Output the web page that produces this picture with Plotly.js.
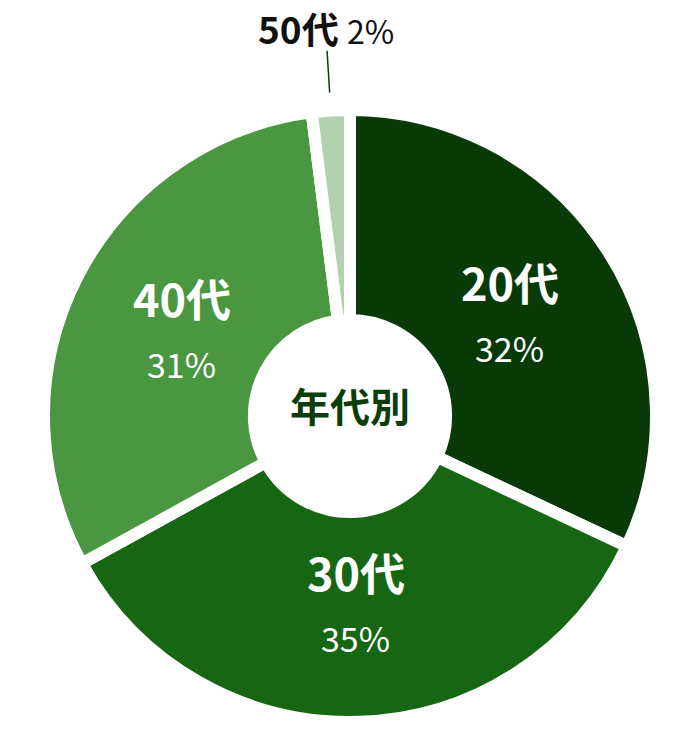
<!DOCTYPE html>
<html>
<head>
<meta charset="utf-8">
<script src="https://cdn.plot.ly/plotly-3.0.1.min.js"></script>
<style>
  html, body { margin: 0; padding: 0; background: #fff; }
</style>
</head>
<body>
<div id="chart"></div>
<script>
// age groups and their share, %
const ages = ['20代', '30代', '40代', '50代'];
const shares = [32, 35, 31, 2];
const centerLabel = '年代別';

const colors = ['#073a07', '#166614', '#4a9641', '#b2d1ae'];
const fontJP = '"Noto Sans CJK JP", "Noto Sans", sans-serif';

const W = 700, H = 732;
const cx = 350, cy = 416, R = 306;   // pie geometry, px
const labelR = 189;                  // inside labels radius

const toPx = (dx, dy) => ({x: (cx + dx) / W, y: (H - (cy + dy)) / H});
const note = (p, text, font, yshift) => ({
    x: p.x, y: p.y, xref: 'paper', yref: 'paper', showarrow: false,
    xanchor: 'center', yanchor: 'middle',
    text: text, font: font, yshift: yshift || 0
});

const total = shares.reduce((a, b) => a + b, 0);
const annotations = [];
const shapes = [];
let cum = 0;
shares.forEach((v, i) => {
    const mid = (cum + v / 2) / total * 2 * Math.PI;
    cum += v;
    const sx = Math.sin(mid), sy = -Math.cos(mid);
    if (v >= 5) {
        const p = toPx(sx * labelR, sy * labelR);
        annotations.push(note(p, '<b>' + ages[i] + '</b>',
            {family: fontJP, size: 45, color: '#fff'}, 33));
        annotations.push(note(p, v + '%',
            {family: fontJP, size: 34, color: '#fff'}, -33));
    } else {
        // small slice: label outside with a leader line
        const a = toPx(sx * 324, sy * 324);
        const b = toPx(sx * 366, sy * 366);
        shapes.push({
            type: 'line', xref: 'paper', yref: 'paper',
            x0: a.x, y0: a.y, x1: b.x, y1: b.y,
            line: {color: '#0b3d0b', width: 1.5}
        });
        const t = toPx(sx * 389, sy * 389);
        annotations.push(note(t,
            '<b>' + ages[i] + '</b> <span style="font-size:32px">' + v + '%</span>',
            {family: fontJP, size: 37, color: '#111'}));
    }
});

// centre text
annotations.push(note(toPx(0, 0), '<b>' + centerLabel + '</b>',
    {family: fontJP, size: 40, color: '#0b3d0b'}, 11));

const dom = toPx(0, 0);
Plotly.newPlot('chart', [{
    type: 'pie',
    labels: ages,
    values: shares,
    sort: false,
    direction: 'clockwise',
    rotation: 0,
    hole: 0.314,
    textinfo: 'none',
    hoverinfo: 'label+percent',
    marker: {colors: colors, line: {color: '#fff', width: 12}},
    domain: {x: [0, 1], y: [dom.y - R / H, dom.y + R / H]}
}], {
    width: W,
    height: H,
    margin: {l: 0, r: 0, t: 0, b: 0},
    showlegend: false,
    paper_bgcolor: '#fff',
    annotations: annotations,
    shapes: shapes
}, {displayModeBar: false, staticPlot: true});
</script>
</body>
</html>
